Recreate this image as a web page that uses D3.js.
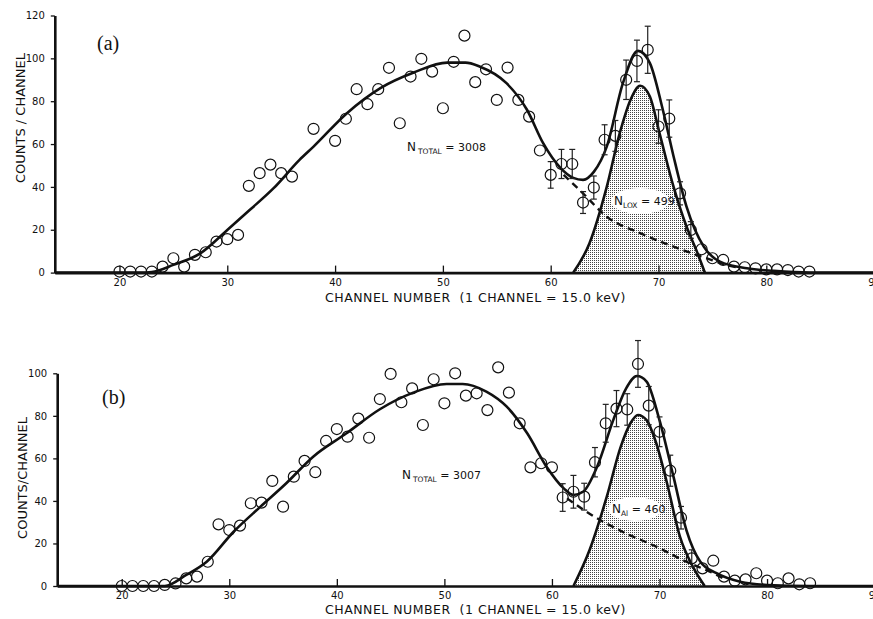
<!DOCTYPE html>
<html>
<head>
<meta charset="utf-8">
<script src="https://cdn.jsdelivr.net/npm/d3@7"></script>
<style>
body{margin:0;background:#fff;}
text{font-family:"DejaVu Sans",sans-serif;fill:#111;}
</style>
</head>
<body>
<div id="chart"></div>
<script>
// (a) measured points, channel -> counts
var chA = [20,21,22,23,24,25,26,27,28,29,30,31,32,33,34,35,36,38,40,41,42,43,44,45,46,47,48,49,
    50,51,52,53,54,55,56,57,58,59,60,61,62,63,64,65,66,67,68,69,70,71,72,73,74,75,76,77,78,79,80,81,82,83,84];
var cntA = [0.5,0.5,0.5,0.5,2.8,6.7,2.8,8.3,9.5,14.5,15.6,17.6,40.5,46.4,50.4,46.4,44.8,67.1,61.5,71.8,85.6,78.6,85.6,95.6,69.7,91.5,99.8,93.8,
    76.7,98.4,110.6,88.9,94.9,80.6,95.7,80.6,72.8,57,45.6,50.7,50.7,32.7,39.7,62,63.8,90,98.8,104,68.2,71.9,37,19.9,10.9,6.7,5.9,2.8,2.5,2,1.5,1.5,1.2,0.5,0.5];
var errChA = [60,61,62,63,64,65,66,67,68,69,70,71,72,73];
var errA = [6.2,6.8,6.8,5.1,5.4,7,7.2,9.2,9.7,11,7.8,8.7,5.4,3.9];

// (a) fitted curves [channel, counts]
var fitA = [[14,0],[22,0],[23,0.3],[25,3.6],[27.5,9],[30,19.9],[32.1,29.3],[34.3,39.4],[36.7,52.6],[38,58.8],[41.1,74.4],[44.2,86.1],
    [47.3,93.4],[50.4,98],[52.1,98],[53.4,96.2],[55.9,88.4],[57.8,76],[59.3,60.4],[60.9,48.9],[62.1,44.2],[63,43.3],[64,47],
    [65.2,58.8],[66.7,88.4],[68.1,103.5],[69.2,97.8],[70.4,76],[71.4,54.2],[72.6,30.8],[74.2,12.1],[75.7,5.1],[78.2,2],[80.7,0.8],[84,0],[90,0]];
var bkgA = [[61.2,45.6],[63,37],[65.2,26.1],[68.3,18.4],[71.4,12.1],[74.5,6.6],[76.3,3.6],[77.5,2.2]];
var peakA = [[62.1,0],[63.6,13.7],[65.2,40],[66.4,65],[67.4,80.6],[68.3,87.2],[69.2,82.2],[70.1,65],[71.4,40],[72.6,21.5],[73.5,10.6],[74.3,0]];

// (b) measured points
var chB = [20,21,22,23,24,25,26,27,28,29,30,31,32,33,34,35,36,37,38,39,40,41,42,43,44,45,46,47,48,49,
    50,51,52,53,54,55,56,57,58,59,60,61,62,63,64,65,66,67,68,69,70,71,72,73,74,75,76,77,78,79,80,81,82,83,84];
var cntB = [0,0,0,0,0.5,1.2,3.6,4.4,11.4,29,26.3,28.4,38.9,39.2,49.4,37.3,51.4,58.8,53.5,68.2,73.8,70.2,78.7,69.7,87.9,99.7,86.4,92.9,75.7,97.2,
    85.9,100,89.5,90.6,82.7,102.8,90.9,76.5,55.8,57.7,55.8,41.6,44.3,42,58.2,76.5,83.4,83,104.4,84.8,72.5,54.2,32.1,13,8.3,11.9,4.4,2.5,3.1,6,2.5,1.3,3.6,0.8,1.3];
var errChB = [61,62,63,64,65,66,67,68,69,70,71,72,73];
var errB = [6.5,7.7,6.3,6.9,8.9,8.5,7.4,11,9,7,7.3,5.3,4];

var fitB = [[14,0],[24,0],[26,5.2],[27.9,11.4],[30.4,25.5],[32.9,37.3],[35.3,48.3],[37.8,60.8],[40.9,71.8],[44,83.1],[47.1,90.9],[50.2,95],
    [51.7,95],[53.9,91.4],[55.8,84.3],[57.7,71.8],[59.5,56.1],[61.1,45.9],[62,42.8],[62.9,44.3],[64.2,56.1],[65.7,78],[66.9,92.9],
    [67.9,98.7],[68.8,96.1],[70,78],[71.3,51.4],[72.5,26.3],[73.8,11.4],[75.3,6],[77.5,2],[80,0.5],[84,0],[90,0]];
var bkgB = [[61.4,41.2],[63.5,34],[66.6,25.4],[69.7,18.5],[72.5,11.4],[75,6],[76.2,2.8]];
var peakB = [[62,0],[63.5,16.9],[65.1,42],[66.4,65.5],[67.3,76.5],[68,80.4],[68.8,78],[69.7,67.1],[70.7,48.3],[71.9,23.2],[73.1,9.1],[74.2,0]];

var xTicks = [20,30,40,50,60,70,80,90];
var yTicksA = [0,20,40,60,80,100,120];
var yTicksB = [0,20,40,60,80,100];

var svg = d3.select("#chart").append("svg")
    .attr("width", 873)
    .attr("height", 619);

// stipple fill for the peak
var pat = svg.append("defs").append("pattern")
    .attr("id", "dots")
    .attr("width", 2).attr("height", 2)
    .attr("patternUnits", "userSpaceOnUse");
pat.append("rect").attr("width", 2).attr("height", 2).attr("fill", "#fff");
pat.append("rect").attr("width", 1).attr("height", 1).attr("fill", "#444");

function drawPanel(p){
    var x = d3.scaleLinear().domain([14, 90]).range(p.xr);
    var y = d3.scaleLinear().domain([0, p.ymax]).range(p.yr);
    var g = svg.append("g");

    var line = d3.line()
        .x(function(d){ return x(d[0]); })
        .y(function(d){ return y(d[1]); })
        .curve(d3.curveMonotoneX);

    // peak (filled)
    g.append("path")
        .datum(p.peak)
        .attr("d", line)
        .attr("fill", "url(#dots)")
        .attr("stroke", "#111")
        .attr("stroke-width", 2.6);

    // white patch behind peak label
    g.append("ellipse")
        .attr("cx", p.lab.x).attr("cy", p.lab.y)
        .attr("rx", p.lab.rx).attr("ry", p.lab.ry)
        .attr("fill", "#fff");

    // background (dashed)
    g.append("path")
        .datum(p.bkg)
        .attr("d", line)
        .attr("fill", "none")
        .attr("stroke", "#111")
        .attr("stroke-width", 2.4)
        .attr("stroke-dasharray", "7,5");

    // total fit
    g.append("path")
        .datum(p.fit)
        .attr("d", line)
        .attr("fill", "none")
        .attr("stroke", "#111")
        .attr("stroke-width", 2.6);

    // error bars
    var eb = g.selectAll(".eb").data(p.errCh).enter().append("g").attr("class", "eb");
    eb.each(function(c, i){
        var v = p.cnt[p.ch.indexOf(c)];
        var e = p.err[i];
        var s = d3.select(this);
        var cx = x(c);
        s.append("line").attr("x1", cx).attr("x2", cx).attr("y1", y(v - e)).attr("y2", y(v + e));
        s.append("line").attr("x1", cx - 3).attr("x2", cx + 3).attr("y1", y(v - e)).attr("y2", y(v - e));
        s.append("line").attr("x1", cx - 3).attr("x2", cx + 3).attr("y1", y(v + e)).attr("y2", y(v + e));
    });
    eb.selectAll("line").attr("stroke", "#222").attr("stroke-width", 1.2);

    // data points
    g.selectAll(".pt").data(p.ch).enter().append("circle")
        .attr("class", "pt")
        .attr("cx", function(d){ return x(d); })
        .attr("cy", function(d, i){ return y(p.cnt[i]); })
        .attr("r", 5.5)
        .attr("fill", "none")
        .attr("stroke", "#111")
        .attr("stroke-width", 1.2);

    // axes
    var xAxis = g.append("g")
        .attr("transform", "translate(0," + y(0) + ")")
        .call(d3.axisBottom(x).tickValues(xTicks).tickSizeInner(-7).tickSizeOuter(0).tickPadding(6));
    var yAxis = g.append("g")
        .attr("transform", "translate(" + x(14) + ",0)")
        .call(d3.axisLeft(y).tickValues(p.yTicks).tickSizeInner(4).tickSizeOuter(0).tickPadding(6));
    [xAxis, yAxis].forEach(function(a){
        a.select(".domain").attr("stroke", "#111").attr("stroke-width", 2.6);
        a.selectAll(".tick line").attr("stroke", "#111").attr("stroke-width", 1.3);
        a.selectAll("text").attr("font-size", 10).attr("font-family", "DejaVu Sans").attr("fill", "#111");
    });

    // axis titles
    g.append("text")
        .attr("x", 325).attr("y", p.xTitleY)
        .attr("font-size", 12.5)
        .attr("letter-spacing", 0.5)
        .attr("xml:space", "preserve")
        .text("CHANNEL NUMBER  (1 CHANNEL = 15.0 keV)");
    g.append("text")
        .attr("transform", "translate(" + p.yTitle.x + "," + p.yTitle.y + ") rotate(-90)")
        .attr("text-anchor", "middle")
        .attr("font-size", 13)
        .text(p.yTitle.t);

    // panel letter
    g.append("text")
        .attr("x", p.tag.x).attr("y", p.tag.y)
        .attr("font-size", 20)
        .style("font-family", "Liberation Serif")
        .text(p.tag.t);

    // N total
    var nt = g.append("text").attr("x", p.nTot.x).attr("y", p.nTot.y).attr("font-size", 12);
    nt.append("tspan").text("N");
    nt.append("tspan").attr("font-size", 7.5).attr("dy", 3).attr("dx", 2).text("TOTAL");
    nt.append("tspan").attr("dy", -3).attr("font-size", 11).text(" = " + p.nTot.v);

    // N peak
    var np = g.append("text").attr("x", p.lab.tx).attr("y", p.lab.y + 4).attr("font-size", 12);
    np.append("tspan").text("N");
    np.append("tspan").attr("font-size", 7.5).attr("dy", 3).text(p.lab.sub);
    np.append("tspan").attr("dy", -3).attr("font-size", 11).text(" = " + p.lab.v);
}

drawPanel({
    xr: [54.8, 874.1], yr: [272.6, 15.5], ymax: 120, yTicks: yTicksA,
    ch: chA, cnt: cntA, errCh: errChA, err: errA,
    fit: fitA, bkg: bkgA, peak: peakA,
    xTitleY: 302,
    yTitle: {x: 25, y: 118, t: "COUNTS / CHANNEL"},
    tag: {x: 97, y: 50, t: "(a)"},
    nTot: {x: 407, y: 151, v: "3008"},
    lab: {x: 640, y: 201, rx: 29, ry: 13, tx: 614, sub: "LOX", v: "499"}
});

drawPanel({
    xr: [57.2, 874.6], yr: [586, 373.3], ymax: 100, yTicks: yTicksB,
    ch: chB, cnt: cntB, errCh: errChB, err: errB,
    fit: fitB, bkg: bkgB, peak: peakB,
    xTitleY: 614,
    yTitle: {x: 27, y: 478, t: "COUNTS/CHANNEL"},
    tag: {x: 102, y: 404, t: "(b)"},
    nTot: {x: 402, y: 479, v: "3007"},
    lab: {x: 635, y: 509, rx: 27, ry: 12, tx: 612, sub: "Al", v: "460"}
});
</script>
</body>
</html>
